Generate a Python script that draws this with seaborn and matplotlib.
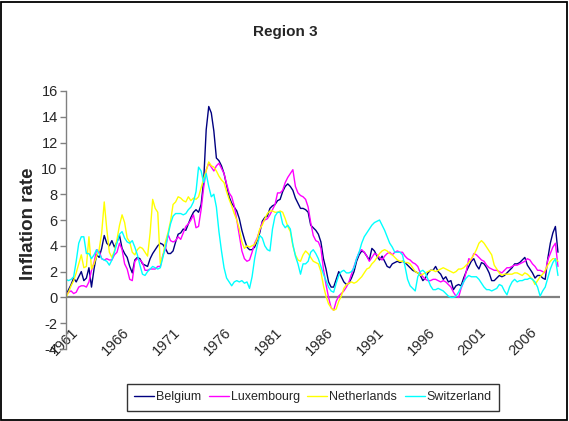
import matplotlib
matplotlib.use("Agg")
import matplotlib.pyplot as plt
from matplotlib.transforms import ScaledTranslation
from matplotlib.patches import Rectangle
import seaborn as sns
import pandas as pd
import numpy as np

# ---------------- data (quarterly, 1961Q1 .. 2009Q2) ----------------
belgium = [
    0.2, 0.6, 1.0, 1.5,   1.2, 1.6, 2.0, 1.3,   1.5, 2.3, 0.8, 2.2,   3.3, 3.1, 3.8, 4.8,
    4.2, 4.0, 4.4, 3.9,   4.3, 4.8, 3.8, 3.4,   3.1, 2.4, 1.9, 2.9,   3.1, 3.0, 2.6, 2.5,
    2.4, 3.0, 3.4, 3.7,   4.0, 4.2, 4.1, 3.8,   3.4, 3.4, 3.6, 4.3,   4.9, 5.0, 5.3, 5.2,
    5.7, 6.2, 6.6, 6.8,   6.6, 7.2, 9.0, 13.0,  14.8, 14.3, 12.9, 10.8, 10.6, 10.2, 9.6, 8.7,
    7.8, 7.3, 7.0, 6.7,   6.1, 5.2, 4.5, 3.9,   3.7, 3.7, 3.9, 4.4,   5.0, 5.9, 6.2, 6.3,
    6.9, 7.1, 7.2, 7.5,   7.6, 8.2, 8.6, 8.8,   8.6, 8.3, 7.7, 7.3,   6.9, 6.9, 6.8, 6.6,
    5.6, 5.4, 5.2, 4.9,   4.3, 3.0, 2.2, 1.2,   0.8, 0.8, 1.4, 2.0,   1.6, 1.2, 1.0, 1.1,
    1.5, 2.0, 2.8, 3.3,   3.6, 3.5, 3.2, 2.9,   3.8, 3.6, 3.2, 2.9,   3.2, 2.8, 2.4, 2.3,
    2.6, 2.7, 2.8, 2.7,   2.8, 2.7, 2.5, 2.3,   2.1, 2.0, 1.9, 1.7,   1.3, 1.5, 1.9, 2.1,
    2.1, 2.4, 2.0, 1.8,   1.4, 1.6, 1.2, 1.3,   0.6, 0.9, 1.0, 0.9,   1.5, 2.0, 2.4, 2.8,
    3.0, 2.5, 2.2, 2.7,   2.6, 2.3, 1.9, 1.3,   1.3, 1.5, 1.7, 1.6,   1.7, 1.9, 2.1, 2.3,
    2.6, 2.6, 2.7, 2.9,   3.1, 2.5, 2.2, 1.9,   1.5, 1.7, 1.7, 1.5,   1.4, 3.0, 4.2, 5.0,
    5.5, 3.5,
]
luxembourg = [
    0.2, 0.4, 0.5, 0.3,   0.4, 0.8, 0.9, 0.9,   0.8, 1.2, 2.1, 2.7,   3.7, 3.6, 3.0, 2.9,
    3.0, 2.9, 2.9, 3.3,   3.5, 4.2, 3.7, 2.6,   2.2, 1.4, 1.3, 2.8,   3.0, 2.9, 2.7, 2.1,
    2.1, 2.2, 2.2, 2.2,   2.4, 2.4, 3.3, 3.7,   4.9, 4.4, 4.3, 4.4,   4.7, 4.5, 5.0, 5.5,
    5.7, 6.0, 6.4, 5.4,   5.5, 6.8, 8.5, 9.9,   10.4, 10.1, 9.8, 10.2, 10.4, 10.0, 9.6, 8.8,
    8.1, 7.8, 7.1, 6.0,   4.8, 3.6, 3.0, 2.8,   2.9, 3.5, 4.2, 4.6,   5.2, 5.8, 6.0, 6.1,
    6.4, 6.8, 7.2, 8.1,   8.1, 8.3, 8.9, 9.3,   9.6, 9.9, 8.6, 8.1,   7.9, 7.8, 7.6, 7.0,
    5.8, 4.8, 4.4, 4.3,   3.8, 2.2, 1.0, 0.0,   -0.8, -1.0, -0.3, 0.1, 0.3, 0.5, 0.8, 1.2,
    1.8, 2.4, 3.0, 3.5,   3.7, 3.5, 3.2, 2.8,   3.1, 3.4, 3.3, 3.1,   2.9, 3.2, 3.4, 3.5,
    3.3, 3.5, 3.6, 3.5,   3.5, 3.2, 3.0, 2.9,   2.7, 2.6, 2.4, 1.9,   1.6, 1.4, 1.3, 1.3,
    1.4, 1.4, 1.3, 1.2,   1.3, 1.2, 1.0, 0.8,   0.4, 0.1, 0.0, 0.7,   1.2, 2.0, 3.0, 2.9,
    3.4, 3.3, 3.1, 2.9,   2.8, 2.5, 2.3, 2.2,   2.1, 2.1, 2.0, 1.9,   2.1, 2.3, 2.3, 2.4,
    2.5, 2.5, 2.6, 2.7,   2.8, 3.0, 2.9, 2.6,   2.4, 2.1, 2.1, 2.0,   1.9, 2.9, 3.4, 3.9,
    4.2, 2.4,
]
netherlands = [
    0.0, 0.4, 0.9, 1.3,   1.9, 2.6, 3.3, 2.3,   2.4, 4.7, 2.2, 2.6,   3.2, 3.7, 5.0, 7.4,
    5.3, 3.5, 3.1, 3.6,   4.5, 5.6, 6.4, 5.8,   4.6, 4.3, 3.5, 3.3,   3.7, 3.9, 3.8, 3.5,
    3.2, 5.0, 7.6, 6.9,   6.6, 2.6, 3.2, 4.3,   5.0, 5.9, 7.2, 7.4,   7.8, 7.7, 7.5, 7.4,
    7.8, 7.5, 7.7, 7.6,   7.8, 8.5, 9.2, 9.8,   10.5, 10.2, 10.1, 9.8, 9.4, 9.1, 8.9, 8.2,
    7.6, 7.1, 6.5, 6.0,   5.3, 4.3, 3.8, 4.0,   3.9, 4.0, 4.1, 4.5,   5.3, 5.6, 6.1, 6.5,
    6.7, 6.7, 6.6, 6.6,   6.7, 6.6, 6.1, 5.5,   5.1, 4.0, 3.3, 2.9,   2.8, 3.3, 3.6, 3.4,
    3.1, 2.8, 2.7, 2.6,   2.0, 0.9, 0.1, -0.5,  -0.8, -1.0, -0.9, -0.3, 0.1, 0.7, 1.0, 1.1,
    1.2, 1.1, 1.2, 1.4,   1.6, 1.9, 2.2, 2.3,   2.6, 2.8, 3.1, 3.4,   3.6, 3.7, 3.6, 3.4,
    3.3, 3.1, 2.9, 2.8,   2.8, 2.7, 2.7, 2.6,   2.3, 2.0, 1.9, 1.7,   1.8, 1.9, 2.0, 2.1,
    2.1, 2.0, 2.1, 2.2,   2.3, 2.2, 2.1, 2.0,   1.9, 2.0, 2.2, 2.2,   2.3, 2.5, 2.7, 3.0,
    3.3, 3.7, 4.2, 4.4,   4.2, 3.9, 3.6, 3.3,   2.5, 2.2, 1.9, 1.7,   1.8, 1.8, 1.8, 1.8,
    1.9, 1.9, 1.8, 1.7,   1.9, 1.8, 1.6, 1.4,   1.0, 1.3, 1.6, 1.8,   2.1, 2.5, 2.8, 3.0,
    3.0, 2.8,
]
switzerland = [
    1.4, 1.3, 1.4, 1.6,   2.8, 4.2, 4.7, 4.7,   3.4, 3.4, 3.0, 3.3,   3.7, 3.4, 3.0, 2.9,
    2.8, 2.5, 2.9, 3.5,   4.2, 4.9, 5.1, 4.6,   4.3, 4.2, 4.4, 3.9,   3.3, 2.5, 1.8, 1.7,
    2.0, 2.2, 2.4, 2.3,   2.2, 2.3, 3.1, 3.9,   4.8, 5.7, 6.3, 6.5,   6.5, 6.5, 6.4, 6.5,
    6.8, 7.0, 7.4, 8.2,   10.1, 9.8, 8.9, 9.6,  8.6, 7.8, 8.0, 7.0,   5.1, 3.6, 2.3, 1.5,
    1.2, 0.9, 1.2, 1.3,   1.2, 1.3, 1.1, 1.2,   0.7, 1.6, 3.0, 4.0,   4.8, 4.6, 4.0, 3.7,
    3.6, 5.3, 6.3, 6.6,   6.6, 5.7, 5.4, 5.6,   5.3, 4.1, 3.2, 2.6,   1.8, 2.6, 2.6, 2.8,
    3.5, 3.7, 3.4, 3.0,   2.4, 1.8, 1.3, 0.8,   0.5, 0.4, 1.1, 1.7,   2.0, 2.1, 1.9, 1.9,
    2.0, 2.3, 3.0, 3.5,   4.2, 4.7, 5.0, 5.3,   5.6, 5.8, 5.9, 6.0,   5.6, 5.2, 4.7, 4.2,
    3.9, 3.5, 3.5, 3.5,   3.3, 2.4, 1.4, 0.9,   0.7, 0.5, 1.6, 2.0,   2.1, 1.9, 1.4, 0.9,
    0.6, 0.6, 0.7, 0.6,   0.5, 0.3, 0.1, 0.0,   0.0, 0.1, 0.4, 0.8,   1.2, 1.5, 1.7, 1.6,
    1.6, 1.6, 1.4, 1.1,   0.8, 0.6, 0.6, 0.5,   0.6, 0.7, 1.0, 0.9,   0.5, 0.2, 0.8, 1.2,
    1.4, 1.2, 1.3, 1.3,   1.4, 1.4, 1.5, 1.4,   1.2, 0.8, 0.1, 0.5,   0.8, 1.5, 2.2, 2.7,
    3.0, 1.7,
]
countries = ["Belgium", "Luxembourg", "Netherlands", "Switzerland"]
colors = ["#000080", "#FF00FF", "#FFFF00", "#00FFFF"]
tick_labels = ["1961", "1966", "1971", "1976", "1981", "1986", "1991", "1996", "2001", "2006"]
y_ticks = [-4, -2, 0, 2, 4, 6, 8, 10, 12, 14, 16]
title = "Region 3"
y_label = "Inflation rate"

series = [belgium, luxembourg, netherlands, switzerland]
n = len(belgium)
frames = []
for name, vals in zip(countries, series):
    frames.append(pd.DataFrame({"t": np.arange(len(vals)), "value": vals, "country": name}))
df = pd.concat(frames, ignore_index=True)

# ---------------- style ----------------
sns.set_style("white")
plt.rcParams["font.family"] = ["Liberation Sans", "DejaVu Sans"]
plt.rcParams["axes.unicode_minus"] = False

fig = plt.figure(figsize=(5.69, 4.21), dpi=100)
ax = fig.add_axes([66 / 569, 1 - 349 / 421, (560 - 66) / 569, (349 - 91) / 421])

sns.lineplot(data=df, x="t", y="value", hue="country", hue_order=countries,
             palette=dict(zip(countries, colors)), estimator=None, linewidth=1.0,
             ax=ax, legend=True)

ax.axhline(0, color="#808080", linewidth=1.6, zorder=0.5)
ax.set_xlim(0, n - 0.2)
ax.set_ylim(-4, 16)
ax.set_yticks(y_ticks)
ax.set_yticklabels([str(v) for v in y_ticks], fontsize=10.5)
ax.set_xticks(list(range(0, len(tick_labels) * 20, 20)))
ax.set_xticklabels(tick_labels, fontsize=10.5, rotation=45, ha="right", va="top",
                   rotation_mode="anchor")
ax.tick_params(axis="x", length=0, pad=-17)
ax.tick_params(axis="y", direction="out", length=4, width=1, color="#808080", pad=2, left=True)
off = ScaledTranslation(5 / 100, 0, fig.dpi_scale_trans)
for lab in ax.get_xticklabels():
    lab.set_transform(lab.get_transform() + off)

for s in ["top", "right", "bottom"]:
    ax.spines[s].set_visible(False)
ax.spines["left"].set_color("#808080")
ax.spines["left"].set_linewidth(1.0)
ax.set_xlabel("")
ax.set_ylabel(y_label, fontsize=13.5, fontweight="bold")
ax.yaxis.set_label_coords(-0.058, 0.484)
ax.grid(False)

fig.text(285 / 569, 1 - 32 / 421, title, fontsize=11, fontweight="bold",
         ha="center", va="center")

handles, labels = ax.get_legend_handles_labels()
ax.legend(handles, labels, loc="center", bbox_to_anchor=(313 / 569, 1 - 397 / 421),
          bbox_transform=fig.transFigure, ncol=4, frameon=True, fancybox=False,
          edgecolor="black", fontsize=9, handlelength=1.6, handletextpad=0.15,
          columnspacing=0.6, borderpad=0.6)
ax.get_legend().get_frame().set_linewidth(1.0)

fig.patches.append(Rectangle((0.002, 0.003), 0.995, 0.993, transform=fig.transFigure,
                             fill=False, edgecolor="black", linewidth=1.3))

fig.savefig("out.png", dpi=100, facecolor="white")
